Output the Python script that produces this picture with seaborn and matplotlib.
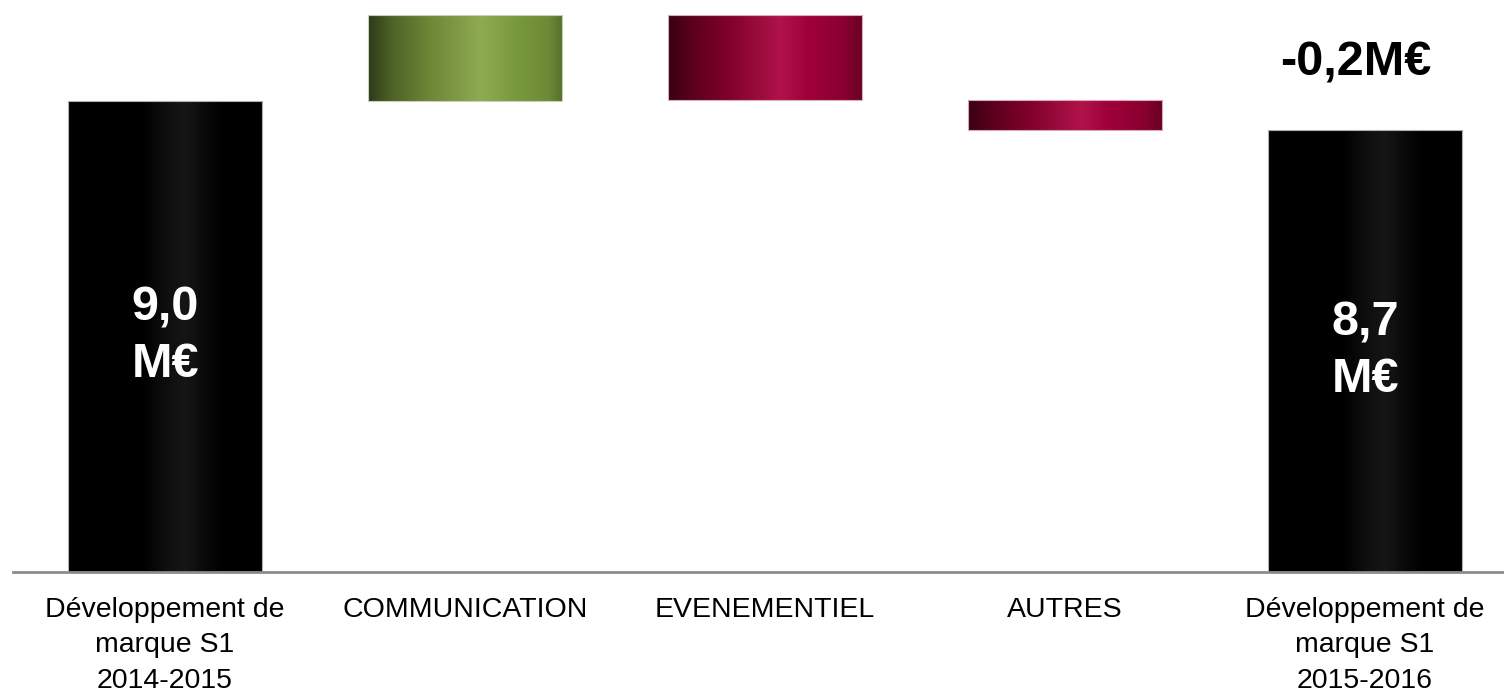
import numpy as np
import pandas as pd
import matplotlib
matplotlib.use("Agg")
import matplotlib.pyplot as plt
import seaborn as sns
from matplotlib.colors import LinearSegmentedColormap

# ---- data ----
categories = ["Développement de\nmarque S1\n2014-2015", "COMMUNICATION", "EVENEMENTIEL",
              "AUTRES", "Développement de\nmarque S1\n2015-2016"]
start_value = 9.0
deltas = [0.89, -0.88, -0.31]
end_value = 8.7
total_labels = ["9,0\nM€", "8,7\nM€"]
change_label = "-0,2M€"
axis_floor = 4.13

# waterfall geometry from data
bottoms = [axis_floor]
heights = [start_value - axis_floor]
level = start_value
for d in deltas:
    bottoms.append(level)
    heights.append(d)
    level += d
bottoms.append(axis_floor)
heights.append(end_value - axis_floor)

df = pd.DataFrame({"cat": categories, "h": heights})

sns.set_theme(style="white")
plt.rcParams["font.family"] = ["Liberation Sans", "DejaVu Sans"]

fig = plt.figure(figsize=(15.04, 6.94), dpi=100)
ax = fig.add_axes([13 / 1504, 122 / 694, (1504 - 13) / 1504, 572 / 694])

sns.barplot(data=df, x="cat", y="h", bottom=bottoms, width=0.647, ax=ax,
            color="black", saturation=1, linewidth=0)

black_cm = LinearSegmentedColormap.from_list(
    "blk", [(0, "#000000"), (0.38, "#000000"), (0.5, "#0e0e0e"), (0.6, "#161616"),
            (0.7, "#0a0a0a"), (0.8, "#000000"), (1, "#000000")])
green_cm = LinearSegmentedColormap.from_list(
    "grn", [(0, "#2c3a1a"), (0.12, "#4d6226"), (0.3, "#6b8436"), (0.58, "#8fab52"),
            (0.75, "#7a9a3e"), (0.93, "#6d8a36"), (1, "#586e2c")])
red_cm = LinearSegmentedColormap.from_list(
    "red", [(0, "#3a0012"), (0.12, "#5a001c"), (0.3, "#7e002a"), (0.58, "#b0134a"),
            (0.72, "#a0003a"), (0.9, "#8a0030"), (1, "#680022")])
cmaps = [black_cm, green_cm, red_cm, red_cm, black_cm]
edges = ["#b0b0b0", "#c8d0b8", "#d8b0bc", "#d8a8b8", "#b0b0b0"]

grad = np.linspace(0, 1, 256).reshape(1, -1)
for patch, cm, ec in zip(ax.patches, cmaps, edges):
    x0, y0 = patch.get_x(), patch.get_y()
    w, h = patch.get_width(), patch.get_height()
    y_lo, y_hi = min(y0, y0 + h), max(y0, y0 + h)
    patch.set_facecolor("none")
    patch.set_edgecolor(ec)
    patch.set_linewidth(0.8)
    patch.set_zorder(3)
    im = ax.imshow(grad, cmap=cm, aspect="auto", extent=(x0, x0 + w, y_lo, y_hi),
                   zorder=2, interpolation="bilinear")
    im.set_clip_path(patch)

# value labels inside totals
bold_fam = ["Liberation Sans Narrow", "Liberation Sans", "DejaVu Sans"]
for idx, lab in zip([0, 4], total_labels):
    top = start_value if idx == 0 else end_value
    ax.text(idx, (axis_floor + top) / 2, lab, ha="center", va="center", color="white",
            fontsize=35, fontweight="bold", family=bold_fam, linespacing=1.32, zorder=5)

ax.annotate(change_label, xy=(4, end_value), xytext=(-7, 48), textcoords="offset points",
            ha="center", va="center", fontsize=35, fontweight="bold", family=bold_fam,
            color="black", annotation_clip=False)

ax.set_xlim(-0.5067, 4.4633)
ax.set_ylim(axis_floor, axis_floor + 572 / 96.7)
ax.set_xlabel("")
ax.set_ylabel("")
ax.set_yticks([])
for s in ["top", "left", "right"]:
    ax.spines[s].set_visible(False)
ax.spines["bottom"].set_color("#8c8c8c")
ax.spines["bottom"].set_linewidth(2)
ax.spines["bottom"].set_zorder(4)
ax.tick_params(axis="x", length=0, pad=18, labelsize=20.5, labelcolor="black")
for t in ax.get_xticklabels():
    t.set_linespacing(1.47)
    t.set_verticalalignment("top")
ax.set_facecolor("white")
ax.grid(False)

fig.savefig("out.png", dpi=100, facecolor="white")
